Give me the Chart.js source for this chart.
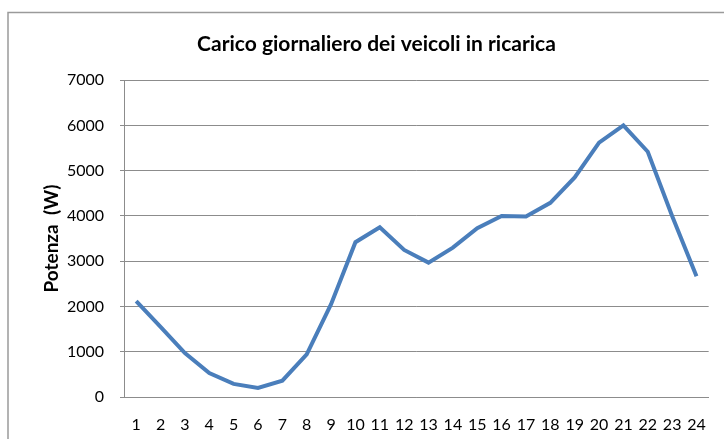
<!DOCTYPE html>
<html>
<head>
<meta charset="utf-8">
<script src="https://cdn.jsdelivr.net/npm/chart.js@4"></script>
<style>
  html, body { margin: 0; padding: 0; background: #fff; }
  #wrap { width: 724px; height: 439px; position: relative; }
</style>
</head>
<body>
<div id="wrap"><canvas id="caricoChart" width="724" height="439"></canvas></div>
<script>
// --- DATI ---
const ore = ["1", "2", "3", "4", "5", "6", "7", "8", "9", "10", "11", "12",
             "13", "14", "15", "16", "17", "18", "19", "20", "21", "22", "23", "24"];
const potenza = [2120, 1550, 970, 530, 290, 200, 360, 940, 2050, 3420, 3750, 3250,
                 2970, 3300, 3730, 4000, 3990, 4290, 4850, 5620, 6000, 5420, 4000, 2670];
const yMin = 0;
const yMax = 7000;
const yStep = 1000;

const grigio = "#8c8c8c";

// cornice esterna del grafico (come in Excel)
const cornice = {
    id: "cornice",
    beforeDraw(chart) {
        const ctx = chart.ctx;
        ctx.save();
        ctx.strokeStyle = "#9a9a9a";
        ctx.lineWidth = 1.5;
        ctx.strokeRect(8, 12.5, 800, 500);
        ctx.restore();
    }
};

Chart.defaults.font.family = "Lato, 'Open Sans', sans-serif";
Chart.defaults.color = "#000";

const ctx = document.getElementById("caricoChart").getContext("2d");

new Chart(ctx, {
    type: "line",
    data: {
        labels: ore,
        datasets: [{
            label: "Potenza",
            data: potenza,
            borderColor: "#4A7EBB",
            borderWidth: 4,
            pointRadius: 0,
            tension: 0,
            fill: false
        }]
    },
    options: {
        responsive: false,
        animation: false,
        // padding a sinistra per centrare il titolo come nell'originale
        layout: { padding: { left: 40, right: 11, top: 0, bottom: 0 } },
        plugins: {
            legend: { display: false },
            tooltip: { enabled: false },
            title: {
                display: true,
                text: "Carico giornaliero dei veicoli in ricarica",
                font: { size: 21, weight: "bold" },
                color: "#000",
                padding: { top: 32, bottom: 23 }
            }
        },
        scales: {
            x: {
                offset: true,
                grid: { display: false, drawTicks: false },
                border: { display: true, color: grigio, width: 1 },
                ticks: { font: { size: 16 }, padding: 18, maxRotation: 0, autoSkip: false },
                afterFit(scale) { scale.height = 42; }
            },
            y: {
                min: yMin,
                max: yMax,
                ticks: {
                    stepSize: yStep,
                    font: { size: 16 },
                    padding: 16,
                    callback: (v) => String(v)
                },
                grid: { color: grigio, lineWidth: 1, tickLength: 4 },
                border: { display: true, color: grigio, width: 1 },
                title: {
                    display: true,
                    text: "Potenza  (W)",
                    font: { size: 19, weight: "bold" },
                    padding: { top: 0, bottom: 0 }
                },
                afterFit(scale) { scale.width = 84; }
            }
        }
    },
    plugins: [cornice]
});
</script>
</body>
</html>
